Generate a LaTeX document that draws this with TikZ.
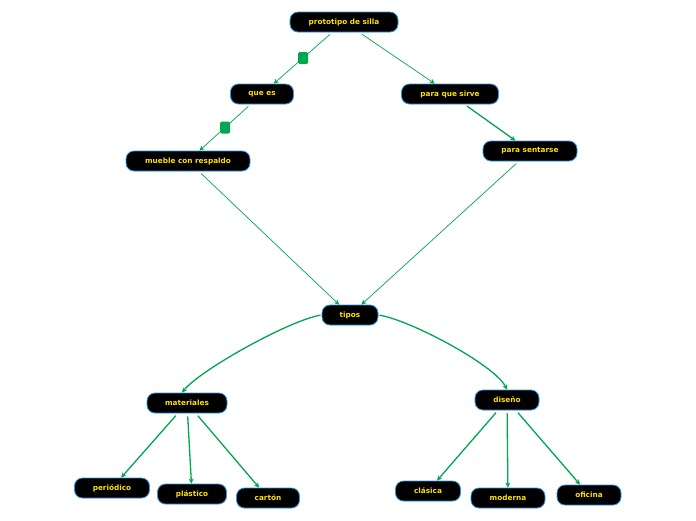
\documentclass[tikz,border=0pt]{standalone}
\usepackage{fontspec}
\setmainfont{DejaVu Sans}
\usetikzlibrary{arrows.meta, positioning}
\definecolor{mapgreen}{RGB}{0, 166, 81}
\definecolor{mapblue}{RGB}{40, 150, 230}
\definecolor{mapyellow}{RGB}{255, 225, 0}

\begin{document}
\begin{tikzpicture}[x=1pt, y=-1pt,
        box/.style={draw=mapblue, fill=black, line width=0.8pt, rounded corners=8pt, minimum height=20pt, inner sep=0pt, font=\bfseries\fontsize{7.3}{8}\selectfont, text=mapyellow, align=center},
        arr/.style={-{Stealth[length=5pt, width=5pt]}, mapgreen, line width=0.7pt, shorten <=3pt},
        thickarr/.style={arr, line width=1.3pt},
        knot/.style={rectangle, fill=mapgreen, rounded corners=1.5pt, minimum width=10pt, minimum height=12pt, inner sep=0pt}
      ]
        \useasboundingbox (0,0) rectangle (696,520);
        \node[box, minimum width=108pt] (proto) at (344,22) {prototipo de silla};
        \node[box, minimum width=63pt] (quees) at (262,94) {que es};
        \node[box, minimum width=97pt] (paraque) at (450,94) {para que sirve};
        \node[box, minimum width=124pt] (mueble) at (188,161) {mueble con respaldo};
        \node[box, minimum width=94pt] (sentarse) at (530,151) {para sentarse};
        \node[box, minimum width=56pt] (tipos) at (350,315) {tipos};
        \node[box, minimum width=80pt] (mat) at (187,403) {materiales};
        \node[box, minimum width=64pt] (dis) at (507,400) {diseño};
        \node[box, minimum width=75pt] (perio) at (112,488) {periódico};
        \node[box, minimum width=69pt] (plast) at (192,494) {plástico};
        \node[box, minimum width=63pt] (carton) at (268,498) {cartón};
        \node[box, minimum width=65pt] (clasica) at (428,491) {clásica};
        \node[box, minimum width=74pt] (moderna) at (508,498) {moderna};
        \node[box, minimum width=64pt] (oficina) at (589,495) {oficina};
        % upper part
        \draw[arr] (proto) -- node[knot] {} (quees);
        \draw[arr] (proto) -- (paraque);
        \draw[arr] (quees) -- node[knot] {} (mueble);
        \draw[thickarr] (paraque) -- (sentarse);
        \draw[arr] (mueble) -- (tipos);
        \draw[arr] (sentarse) -- (tipos);
        % tipos
        \draw[thickarr, shorten <=1pt] (tipos.west) .. controls (290,320) and (200,370) .. ([xshift=-5pt]mat.north);
        \draw[thickarr, shorten <=1pt] (tipos.east) .. controls (410,320) and (495,365) .. (dis.north);
        % materiales
        \draw[thickarr] (mat) -- (perio);
        \draw[thickarr] (mat) -- (plast);
        \draw[thickarr] (mat) -- (carton);
        % diseño
        \draw[thickarr] (dis) -- (clasica);
        \draw[thickarr] (dis) -- (moderna);
        \draw[thickarr] (dis) -- (oficina);
      \end{tikzpicture}
\end{document}
